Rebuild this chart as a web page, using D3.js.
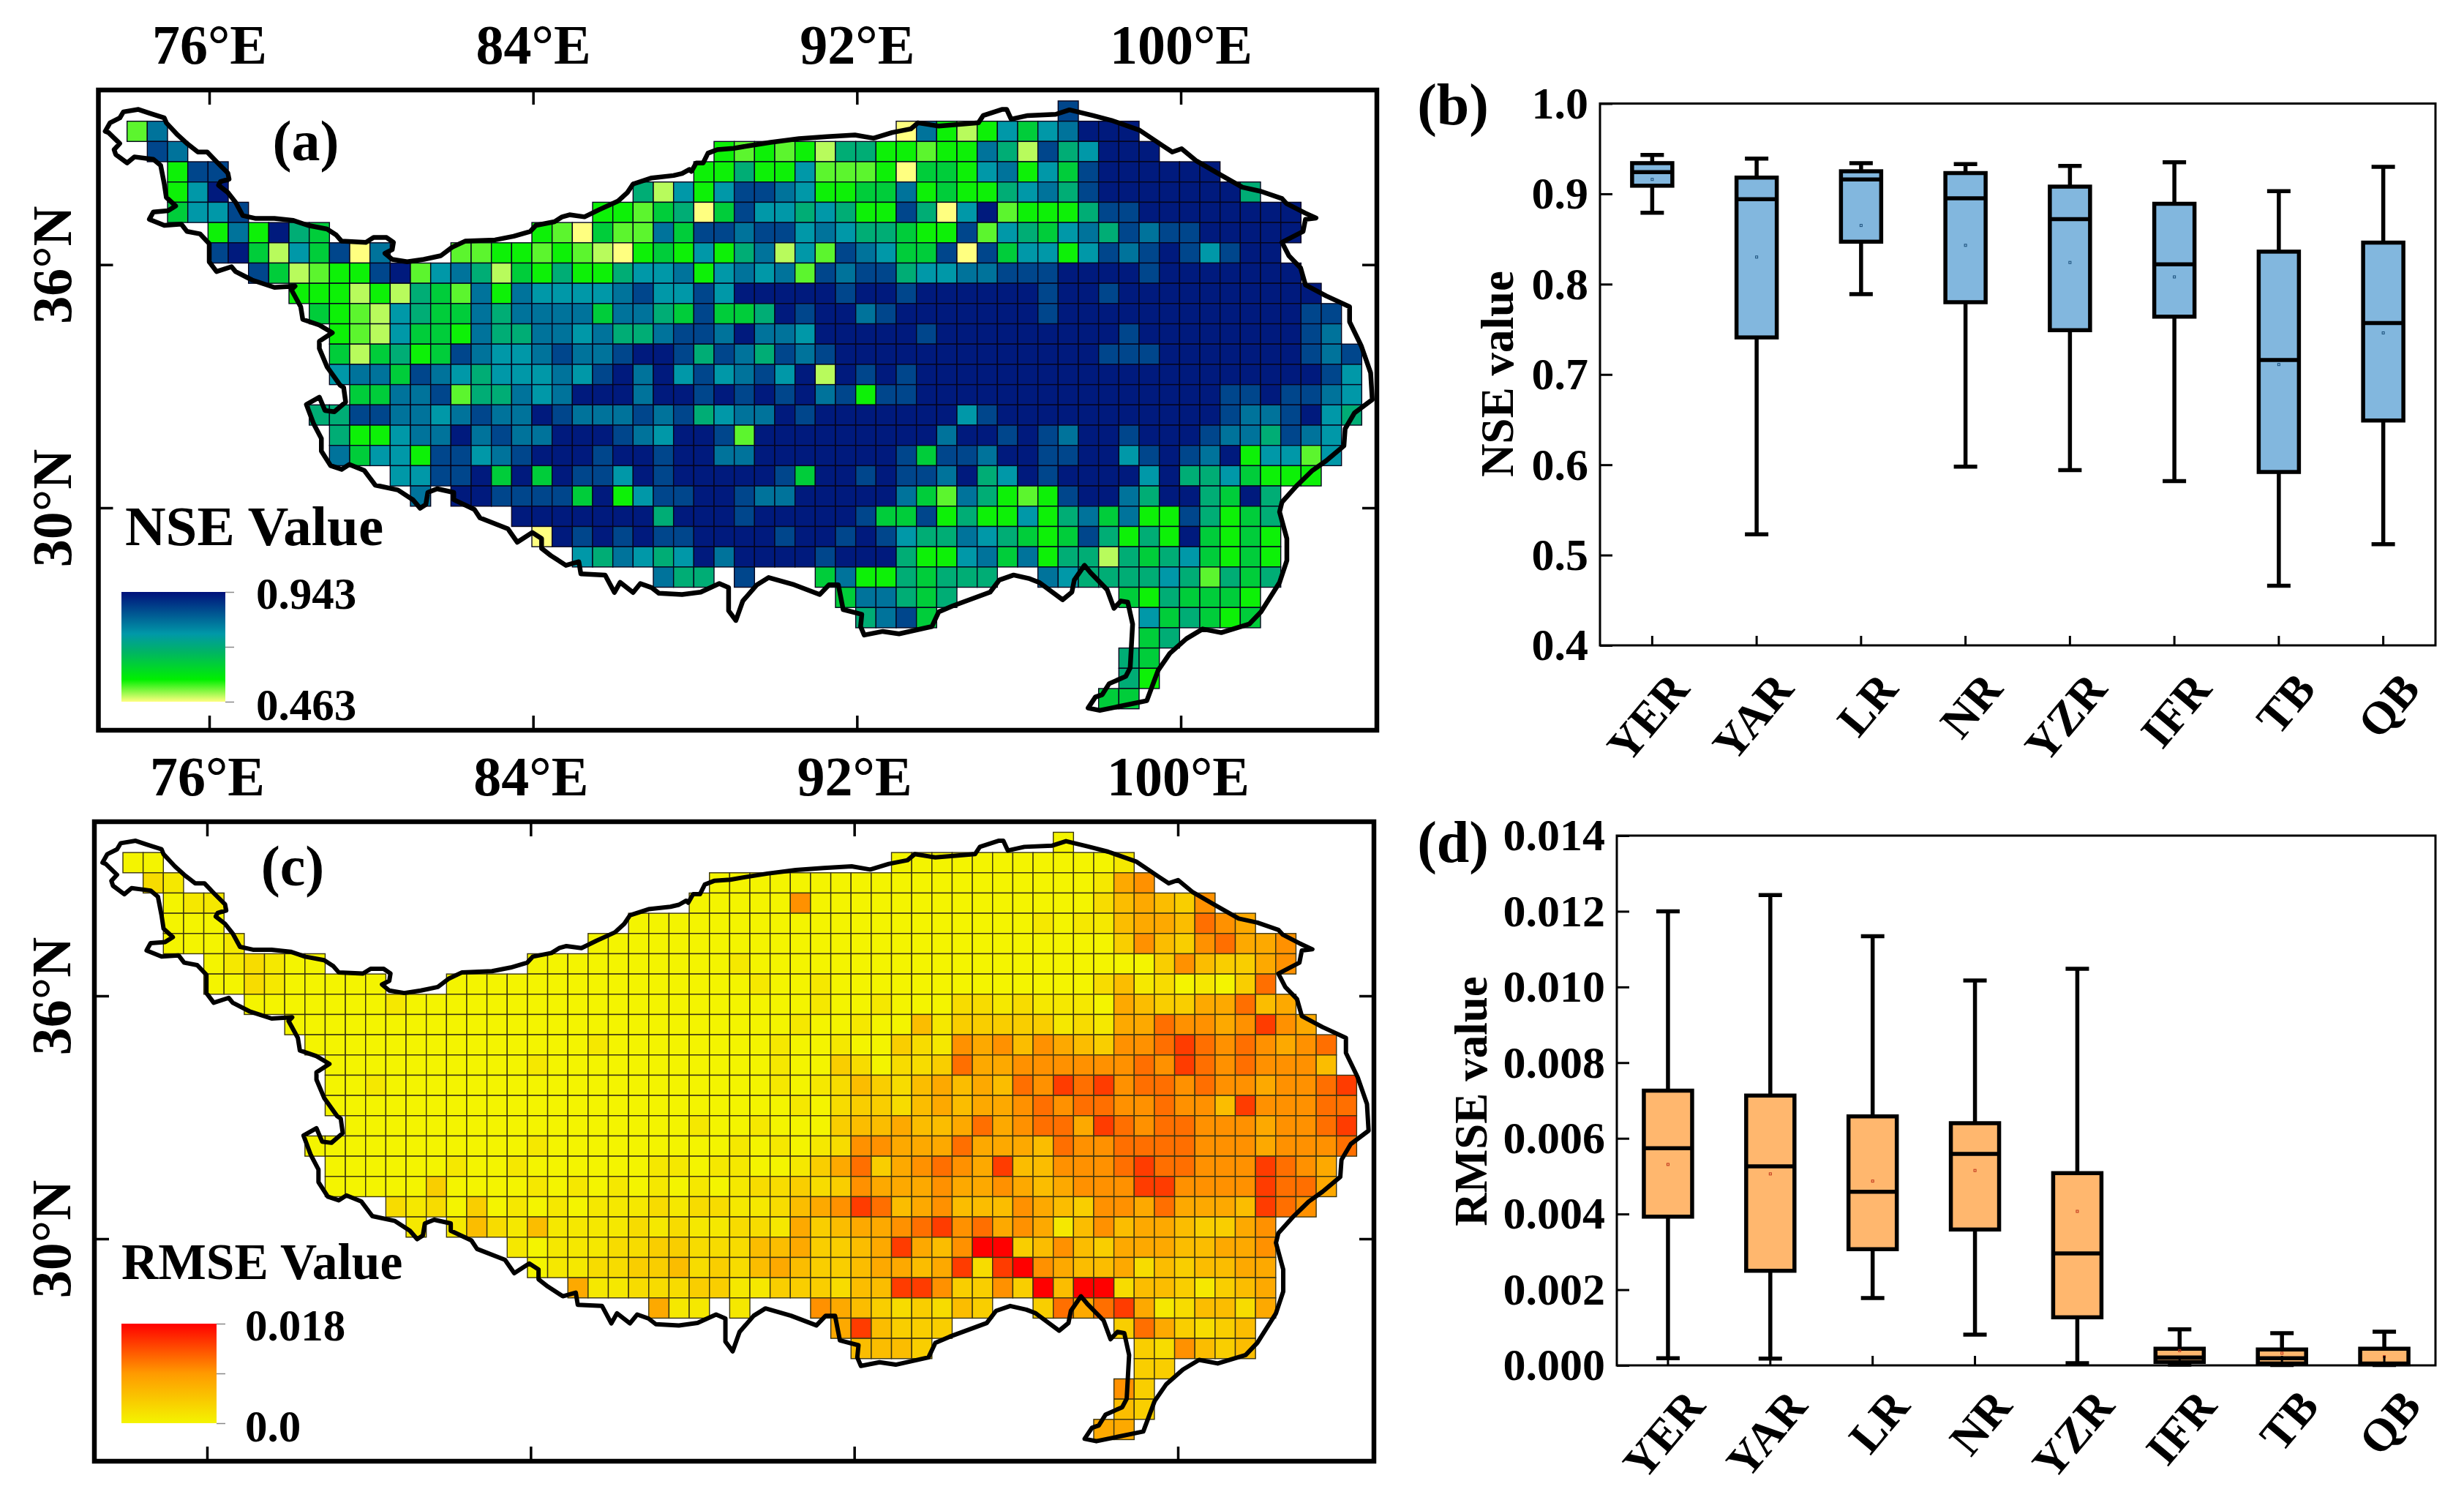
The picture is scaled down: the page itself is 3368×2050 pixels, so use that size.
<!DOCTYPE html>
<html>
<head>
<meta charset="utf-8">
<script src="https://cdn.jsdelivr.net/npm/d3@7"></script>
<style>
  html, body { margin: 0; padding: 0; background: #fff; }
  text { font-family: "Liberation Serif", serif; font-weight: bold; fill: #000; }
</style>
</head>
<body>
<svg id="chart" width="3368" height="2050"></svg>
<script>
// basin names on the box plots
const basins = ["YER", "YAR", "LR", "NR", "YZR", "IFR", "TB", "QB"];

// box plot stats, one entry per basin
const nseLow    = [0.879, 0.523, 0.789, 0.598, 0.594, 0.582, 0.466, 0.512];
const nseQ1     = [0.909, 0.741, 0.847, 0.780, 0.749, 0.764, 0.592, 0.649];
const nseMedian = [0.924, 0.894, 0.916, 0.895, 0.872, 0.822, 0.716, 0.757];
const nseQ3     = [0.934, 0.918, 0.925, 0.923, 0.908, 0.889, 0.836, 0.846];
const nseHigh   = [0.943, 0.939, 0.934, 0.933, 0.931, 0.935, 0.903, 0.930];
const nseMean   = [0.916, 0.830, 0.865, 0.843, 0.824, 0.808, 0.711, 0.746];

const rmseLow    = [0.00019, 0.00018, 0.00178, 0.00081, 0.00006, 0.00002, 0.00001, 0.00001];
const rmseQ1     = [0.00393, 0.00250, 0.00307, 0.00359, 0.00127, 0.00009, 0.00005, 0.00003];
const rmseMedian = [0.00574, 0.00526, 0.00459, 0.00559, 0.00296, 0.00021, 0.00019, 0.00005];
const rmseQ3     = [0.00726, 0.00713, 0.00658, 0.00640, 0.00508, 0.00044, 0.00042, 0.00044];
const rmseHigh   = [0.01200, 0.01243, 0.01134, 0.01017, 0.01048, 0.00095, 0.00085, 0.00089];
const rmseMean   = [0.00531, 0.00506, 0.00487, 0.00515, 0.00407, 0.00039, 0.00032, 0.00023];

const nseTicks = [0.4, 0.5, 0.6, 0.7, 0.8, 0.9, 1.0];
const rmseTicks = [0, 0.002, 0.004, 0.006, 0.008, 0.010, 0.012, 0.014];
const lonTicks = [76, 84, 92, 100];
const latTicks = [36, 30];

// grid cells: 0.5 degree, row 0 = 40N going south, col 0 = 74E going east
// each entry is [row, first col, value codes], a code is an index into the levels below
const nseLevels  = [0.463, 0.49, 0.525, 0.555, 0.63, 0.70, 0.76, 0.81, 0.87, 0.93];
const rmseLevels = [0, 0.0012, 0.0024, 0.0038, 0.0055, 0.0075, 0.0095, 0.0115, 0.0145, 0.018];

const nseCells = [
  [0, 46, "8"],
  [1, 0, "27"], [1, 38, "073136467999"],
  [2, 1, "87"], [2, 29, "3232315533 2337518569 99"],
  [3, 2, "388"], [3, 28, "3353362223 0443673648 999999"],
  [4, 2, "369"], [4, 25, "5163688763 3447343356 7589999999 5"],
  [5, 2, "4668"], [5, 23, "3324504866 5653385069 2333588999 99999"],
  [6, 4, "373954"], [6, 20, "3204227488 7886765543 3826546758 78899999"],
  [7, 4, "894164807"], [7, 16, "22332321034"], [7, 27, "3635716287 6448084663 6878986899"],
  [8, 6, "8412338926 75143533566"], [8, 27, "7367672878 8566778889 99989999999"],
  [9, 8, "3331315427 376666786"], [9, 27, "6869999989 9899999989 9899999999 99"],
  [10, 9, "4321654475 77774775"], [10, 27, "4844598997 8999999989 9999999999 988"],
  [11, 10, "3216443755 7767557"], [11, 27, "8879776999 9989999999 9989999999 987"],
  [12, 10, "4145348766 7877899"], [12, 27, "8587587899 9999999999 9888999999 9878"],
  [13, 10, "6774876566 6768979"], [13, 27, "6867869198 9899999999 9999999999 9986"],
  [14, 11, "4477825576 799979"], [14, 27, "9898989783 8899999999 9999999889 8876"],
  [15, 9, "5588776787 79877787"], [15, 27, "8567798999 9999689999 9999999877 8965"],
  [16, 10, "5336779787 7999876"], [16, 27, "9982999999 9997998987 9989998775 876"],
  [17, 10, "7466388678 9998998"], [17, 27, "9977999999 9848879988 9968987936 626"],
  [18, 13, "6688949498 8698"], [18, 27, "9999984998 9887956989 9996955643 33"],
  [19, 14, "7"], [19, 16, "99888849368"], [19, 27, "8998779999 9742753238 9975995495"],
  [20, 19, "99999995"], [20, 27, "9998999998 4483533635 7473385345"],
  [21, 20, "0989898"], [21, 27, "8999989989 8655765434 8535394343"],
  [22, 22, "65765"], [22, 27, "6979999899 9533674735 5154564343"],
  [23, 26, "755"], [23, 30, "8"], [23, 34, "473354555"], [23, 45, "765555652545"],
  [24, 35, "477545"], [24, 49, "4354443"],
  [25, 36, "5784"], [25, 50, "645434"],
  [26, 50, "45"],
  [27, 49, "54"],
  [28, 49, "53"],
  [29, 48, "44"]
];

const rmseCells = [
  [0, 46, "0"],
  [1, 0, "00"], [1, 38, "000000000001"],
  [2, 1, "21"], [2, 29, "0000000000 0000000001 56"],
  [3, 2, "011"], [3, 28, "0000060000 0000000000 245436"],
  [4, 2, "000"], [4, 25, "0000000000 0000000000 1011 4554765"],
  [5, 2, "0001"], [5, 23, "0000000000 0000000000 00000 0364367556"],
  [6, 4, "012100"], [6, 20, "0000000000 1000000000 000000000"], [6, 49, "003643356"],
  [7, 4, "002100000"], [7, 16, "0000000000 0000010010 000000000000"], [7, 48, "241201037"],
  [8, 6, "0000000100 0000000000 0000000010 01000"], [8, 41, "22121110543355745"],
  [9, 8, "0000000000 0000000000 0000010010 0"], [9, 39, "4133333121 5576656865"],
  [10, 9, "0000000000 0000100000 000100100"], [10, 38, "3216564654 3667876765 67"],
  [11, 10, "0000000000 1000000000 00100"], [11, 35, "3202237556 6666676876 76664"],
  [12, 10, "0010000000 0000000000 001012"], [12, 36, "4324545476 8786776766 56678"],
  [13, 10, "0000000000 0000000000 000102"], [13, 36, "3324545567 6776676648 66677"],
  [14, 11, "0000000000 0000000100 1000"], [14, 35, "3445445756 7758767766 656678"],
  [15, 9, "0000000000 0100000000 0101012"], [15, 36, "6655575554 7667777666 56667"],
  [16, 10, "0000001001 0000001101 1001"], [16, 34, "3573567658 4466678776 668765"],
  [17, 10, "0000030000 1010101010 122"], [17, 33, "3236555655 6545666886 6668775"],
  [18, 13, "2120301010 1112122112"], [18, 33, "4568745644 4654366575 554876"],
  [19, 14, "1"], [19, 16, "1421411112 121122"], [19, 32, "1534556786 7565146455 43356"],
  [20, 19, "1011122332 22"], [20, 31, "4453345854 6993464355 544556"],
  [21, 20, "0112233423 2"], [21, 31, "4543345545 8289654452 434455"],
  [22, 22, "51122233"], [22, 30, "1133324488 6336394992 4431345"],
  [23, 26, "511"], [23, 30, "1"], [23, 34, "654323243"], [23, 45, "375785124425"],
  [24, 35, "584333"], [24, 49, "3753234"],
  [25, 36, "4443"], [25, 50, "326434"],
  [26, 50, "33"],
  [27, 49, "63"],
  [28, 49, "43"],
  [29, 48, "55"]
];

// basin outline as [lon, lat]
const outline = [
  [73.46,39.25],[73.58,39.46],[73.82,39.58],[73.91,39.73],[74.28,39.79],[74.55,39.70],[74.92,39.58],[74.97,39.46],
  [75.25,39.16],[75.48,38.95],[75.75,38.74],[75.98,38.74],[76.21,38.50],[76.49,38.22],[76.52,38.07],[76.31,38.01],
  [76.26,37.92],[76.49,37.74],[76.68,37.50],[76.86,37.17],[77.18,37.10],[77.64,37.10],[78.11,37.05],[78.47,36.93],
  [78.94,36.84],[79.17,36.69],[79.30,36.54],[79.90,36.51],[80.09,36.63],[80.41,36.63],[80.58,36.51],[80.55,36.33],
  [80.37,36.24],[80.55,36.09],[80.92,36.03],[81.33,36.09],[81.75,36.18],[82.03,36.39],[82.35,36.54],[83.09,36.57],
  [83.55,36.66],[83.96,36.78],[84.10,36.93],[84.56,37.02],[84.75,37.14],[84.93,37.19],[85.30,37.14],[85.67,37.32],
  [86.13,37.53],[86.36,37.74],[86.50,37.95],[86.96,38.10],[87.50,38.16],[87.71,38.21],[87.89,38.31],[87.94,38.26],
  [88.06,38.47],[88.23,38.47],[88.35,38.71],[88.58,38.80],[88.98,38.83],[89.33,38.89],[89.90,38.98],[90.60,39.07],
  [91.29,39.12],[91.98,39.16],[92.44,39.08],[92.90,39.22],[93.36,39.31],[93.54,39.46],[94.05,39.38],[95.03,39.46],
  [95.15,39.64],[95.61,39.79],[95.73,39.79],[95.84,39.55],[96.25,39.64],[96.94,39.67],[97.28,39.78],[97.86,39.64],
  [98.32,39.52],[99.01,39.28],[99.59,38.89],[99.82,38.74],[100.05,38.82],[100.40,38.53],[100.97,38.20],[101.55,37.87],
  [102.01,37.77],[102.53,37.59],[102.64,37.47],[103.11,37.23],[103.37,37.11],[103.11,37.08],[103.05,36.78],[102.53,36.51],
  [102.70,36.18],[102.99,35.88],[103.11,35.46],[103.62,35.19],[104.20,34.92],[104.20,34.55],[104.49,33.95],[104.72,33.29],
  [104.76,32.63],[104.32,32.30],[104.09,31.91],[104.06,31.49],[103.62,31.12],[103.28,30.88],[102.88,30.49],[102.53,30.10],
  [102.47,29.86],[102.65,29.20],[102.65,28.66],[102.47,28.12],[102.01,27.39],[101.72,27.09],[101.03,26.88],[100.57,26.97],
  [100.17,26.73],[99.76,26.37],[99.47,25.95],[99.19,25.20],[98.03,24.96],[97.74,25.02],[97.92,25.29],[98.09,25.35],
  [98.26,25.62],[98.67,25.80],[98.78,26.01],[98.84,27.09],[98.72,27.63],[98.55,27.66],[98.38,27.48],[98.21,27.94],
  [97.80,28.36],[97.65,28.54],[97.40,28.18],[97.34,27.88],[97.11,27.69],[96.53,28.12],[96.30,28.21],[95.90,28.30],
  [95.55,28.18],[95.32,27.88],[94.40,27.54],[94.05,27.39],[93.88,27.03],[93.07,26.85],[92.67,26.91],[92.21,26.82],
  [92.12,27.03],[92.15,27.33],[91.69,27.45],[91.57,28.06],[91.34,28.06],[91.11,27.82],[90.48,28.06],[89.85,28.24],
  [89.56,28.06],[89.21,27.66],[89.04,27.18],[88.86,27.42],[88.86,27.99],[88.63,28.09],[88.17,27.88],[87.71,27.82],
  [87.14,27.85],[86.96,27.99],[86.68,28.09],[86.50,27.87],[86.18,28.12],[86.04,27.87],[85.81,28.30],[85.21,28.33],
  [85.16,28.63],[84.84,28.54],[84.47,28.78],[84.24,28.96],[84.24,29.20],[84.01,29.35],[83.64,29.11],[83.41,29.44],
  [82.72,29.71],[82.58,29.92],[82.07,30.16],[82.07,30.34],[81.66,30.43],[81.43,30.34],[81.38,30.04],[81.24,29.95],
  [81.06,30.16],[80.69,30.40],[80.13,30.52],[79.86,30.88],[79.49,31.03],[79.30,30.91],[79.03,31.00],[78.80,31.36],
  [78.80,31.67],[78.61,32.03],[78.43,32.51],[78.75,32.69],[78.89,32.36],[79.12,32.33],[79.40,32.57],[79.35,32.93],
  [79.26,32.99],[78.94,33.44],[78.75,33.89],[78.75,34.07],[79.07,34.28],[78.75,34.47],[78.34,34.61],[78.29,34.92],
  [78.06,35.34],[78.15,35.43],[77.64,35.40],[77.09,35.58],[76.68,35.79],[76.58,35.91],[76.21,35.79],[76.03,36.03],
  [76.03,36.48],[75.80,36.72],[75.48,36.78],[75.34,36.96],[74.92,36.93],[74.55,37.08],[74.65,37.26],[75.01,37.29],
  [75.20,37.41],[74.97,37.62],[74.92,37.95],[74.83,38.41],[74.65,38.56],[74.18,38.62],[74.00,38.47],[73.72,38.68],
  [73.68,38.80],[73.82,38.95],[73.54,39.22]
];

const nseColor = d3.scaleLinear()
    .domain([0.463, 0.56, 0.68, 0.76, 0.943])
    .range(["#ffff80", "#00f000", "#00b464", "#0098a8", "#00107a"]);
const rmseColor = d3.scaleLinear()
    .domain([0, 0.009, 0.018])
    .range(["#f4f400", "#ff9a00", "#ff0000"]);

const svg = d3.select("#chart");
const defs = svg.append("defs");
const deg = "\u00b0";

function drawMap(o) {
  const g = svg.append("g");
  const x = d3.scaleLinear().domain([76, 100]).range(o.xTicks);
  const y = d3.scaleLinear().domain([36, 30]).range(o.yTicks);

  const cells = o.cells.flatMap(([row, col, codes]) =>
    Array.from(codes.replace(/ /g, ""), (c, i) => ({
      lon: 74 + (col + i) * 0.5 + o.gridLon,
      lat: 40 - row * 0.5 + o.gridLat,
      v: o.levels[+c]
    })));

  g.selectAll("rect.cell").data(cells).join("rect")
      .attr("class", "cell")
      .attr("x", d => x(d.lon))
      .attr("y", d => y(d.lat))
      .attr("width", d => x(d.lon + 0.5) - x(d.lon))
      .attr("height", d => y(d.lat - 0.5) - y(d.lat))
      .attr("fill", d => o.color(d.v))
      .attr("stroke", o.cellStroke)
      .attr("stroke-width", 1.4);

  const line = d3.line()
      .x(d => x(d[0] + o.lineLon))
      .y(d => y(d[1] + o.gridLat))
      .curve(d3.curveLinearClosed);
  g.append("path")
      .attr("d", line(outline))
      .attr("fill", "none")
      .attr("stroke", "#000")
      .attr("stroke-width", o.lineWidth)
      .attr("stroke-linejoin", "round");

  g.append("rect")
      .attr("x", o.frame[0]).attr("y", o.frame[1])
      .attr("width", o.frame[2] - o.frame[0]).attr("height", o.frame[3] - o.frame[1])
      .attr("fill", "none").attr("stroke", "#000").attr("stroke-width", 6.5);

  // ticks point inward on all four sides, labels only on top and left
  const axes = [
    [d3.axisTop(x).tickValues(lonTicks).tickFormat(d => d + deg + "E").tickPadding(36), 0, o.frame[1]],
    [d3.axisBottom(x).tickValues(lonTicks).tickFormat(""), 0, o.frame[3]],
    [d3.axisLeft(y).tickValues(latTicks).tickFormat(d => d + deg + "N").tickPadding(o.latPad), o.frame[0], 0],
    [d3.axisRight(y).tickValues(latTicks).tickFormat(""), o.frame[2], 0]
  ];
  axes.forEach(([ax, tx, ty]) => {
    const a = g.append("g")
        .attr("transform", `translate(${tx},${ty})`)
        .call(ax.tickSize(-20).tickSizeOuter(0));
    a.select(".domain").remove();
    a.selectAll(".tick line").attr("stroke", "#000").attr("stroke-width", 3.5);
    a.selectAll("text").attr("font-size", 76).attr("font-family", null);
  });

  // left labels run up the side
  g.selectAll("g.tick text").each(function() {
    const t = d3.select(this);
    if (!/N$/.test(t.text())) return;
    const lx = +t.attr("x");
    t.attr("x", null).attr("dy", null)
     .attr("text-anchor", "middle")
     .attr("transform", `translate(${lx},0) rotate(-90)`);
  });

  // panel letter
  g.append("text").text(o.letter)
      .attr("x", o.letterPos[0]).attr("y", o.letterPos[1])
      .attr("text-anchor", "middle").attr("font-size", 78);

  // colour bar
  const grad = defs.append("linearGradient").attr("id", o.id)
      .attr("x1", 0).attr("x2", 0).attr("y1", 1).attr("y2", 0);
  o.color.domain().forEach(v => {
    grad.append("stop")
        .attr("offset", (v - o.range[0]) / (o.range[1] - o.range[0]))
        .attr("stop-color", o.color(v));
  });
  const bar = d3.scaleLinear().domain(o.range).range([o.barBox[3], o.barBox[1]]);
  g.append("rect")
      .attr("x", o.barBox[0]).attr("y", o.barBox[1])
      .attr("width", o.barBox[2] - o.barBox[0]).attr("height", o.barBox[3] - o.barBox[1])
      .attr("fill", `url(#${o.id})`);
  const barAxis = g.append("g")
      .attr("transform", `translate(${o.barBox[2]},0)`)
      .call(d3.axisRight(bar)
        .tickValues([o.range[0], (o.range[0] + o.range[1]) / 2, o.range[1]])
        .tickFormat("").tickSize(12).tickSizeOuter(0));
  barAxis.select(".domain").remove();
  barAxis.selectAll(".tick line").attr("stroke", "#888").attr("stroke-width", 1.5);

  g.append("text").text(o.title)
      .attr("x", o.titlePos[0]).attr("y", o.titlePos[1])
      .attr("font-size", o.titleSize);
  o.barLabels.forEach(([t, lx, ly]) => {
    g.append("text").text(t).attr("x", lx).attr("y", ly).attr("font-size", 61);
  });
}

drawMap({
  id: "nseGrad", letter: "(a)", letterPos: [418, 219],
  cells: nseCells, levels: nseLevels, color: nseColor, cellStroke: "#05051e",
  xTicks: [286, 1614], yTicks: [361.7, 694], gridLon: -0.03, lineLon: -0.03, gridLat: 0.04,
  lineWidth: 6.5, frame: [134.5, 123, 1882, 998], latPad: 38,
  range: [0.463, 0.943], barBox: [166, 809, 308, 959],
  title: "NSE Value", titlePos: [171, 745], titleSize: 77,
  barLabels: [["0.943", 350, 832], ["0.463", 350, 984]]
});

drawMap({
  id: "rmseGrad", letter: "(c)", letterPos: [400, 1210],
  cells: rmseCells, levels: rmseLevels, color: rmseColor, cellStroke: "#3a3410",
  xTicks: [283, 1610], yTicks: [1361, 1693], gridLon: -0.08, lineLon: -0.045, gridLat: 0.04,
  lineWidth: 6, frame: [129, 1123, 1878, 1997], latPad: 33,
  range: [0, 0.018], barBox: [166, 1809, 296, 1945],
  title: "RMSE Value", titlePos: [166, 1748], titleSize: 69.5,
  barLabels: [["0.018", 335, 1832], ["0.0", 335, 1970]]
});

function drawBoxes(o) {
  const g = svg.append("g");
  const x = d3.scaleBand().domain(basins).range([o.left, o.right]);
  const y = d3.scaleLinear().domain(o.domain).range([o.bottom, o.top]);
  const cx = d => x(d) + x.bandwidth() / 2;
  const stats = basins.map((b, i) => ({
    b, low: o.low[i], q1: o.q1[i], med: o.med[i], q3: o.q3[i], high: o.high[i], mean: o.mean[i]
  }));

  const box = g.selectAll("g.box").data(stats).join("g").attr("class", "box");
  box.append("line").attr("class", "whisker")
      .attr("x1", d => cx(d.b)).attr("x2", d => cx(d.b))
      .attr("y1", d => y(d.low)).attr("y2", d => y(d.high));
  ["low", "high"].forEach(k => {
    box.append("line").attr("class", "whisker")
        .attr("x1", d => cx(d.b) - 16).attr("x2", d => cx(d.b) + 16)
        .attr("y1", d => y(d[k])).attr("y2", d => y(d[k]));
  });
  box.selectAll("line.whisker").attr("stroke", "#000").attr("stroke-width", 5.5);
  box.append("rect")
      .attr("x", d => cx(d.b) - o.boxW / 2).attr("width", o.boxW)
      .attr("y", d => y(d.q3)).attr("height", d => y(d.q1) - y(d.q3))
      .attr("fill", o.fill).attr("stroke", "#000").attr("stroke-width", 5.5);
  box.append("line")
      .attr("x1", d => cx(d.b) - o.boxW / 2).attr("x2", d => cx(d.b) + o.boxW / 2)
      .attr("y1", d => y(d.med)).attr("y2", d => y(d.med))
      .attr("stroke", "#000").attr("stroke-width", 5.5);
  box.append("rect")
      .attr("x", d => cx(d.b) - 1.5).attr("width", 3)
      .attr("y", d => y(d.mean) - 1.5).attr("height", 3)
      .attr("fill", "none").attr("stroke", o.meanColor).attr("stroke-width", 1);

  g.append("rect")
      .attr("x", o.left).attr("y", o.top)
      .attr("width", o.right - o.left).attr("height", o.bottom - o.top)
      .attr("fill", "none").attr("stroke", "#000").attr("stroke-width", 3);

  const yAxis = g.append("g").attr("transform", `translate(${o.left},0)`)
      .call(d3.axisLeft(y).tickValues(o.ticks).tickFormat(o.fmt).tickSize(-17).tickSizeOuter(0).tickPadding(16));
  yAxis.select(".domain").remove();
  yAxis.selectAll(".tick line").attr("stroke", "#000").attr("stroke-width", 3);
  yAxis.selectAll("text").attr("font-size", 62).attr("font-family", null);

  const xAxis = g.append("g").attr("transform", `translate(0,${o.bottom})`)
      .call(d3.axisBottom(x).tickSize(-13).tickSizeOuter(0));
  xAxis.select(".domain").remove();
  xAxis.selectAll(".tick line").attr("stroke", "#000").attr("stroke-width", 3);
  xAxis.selectAll("text")
      .attr("font-size", 63).attr("font-family", null)
      .attr("text-anchor", "end").attr("y", null).attr("dy", null)
      .attr("transform", `translate(53,${o.labelDrop}) rotate(-50)`);

  g.append("text").text(o.yTitle)
      .attr("transform", `translate(${o.yTitleX},${o.yTitleY}) rotate(-90)`)
      .attr("text-anchor", "middle").attr("font-size", 63);
  g.append("text").text(o.letter)
      .attr("x", 2035).attr("y", o.letterY)
      .attr("text-anchor", "end").attr("font-size", 80);
}

drawBoxes({
  left: 2187, right: 3329, top: 141.5, bottom: 882, domain: [0.4, 1.0],
  low: nseLow, q1: nseQ1, med: nseMedian, q3: nseQ3, high: nseHigh, mean: nseMean,
  ticks: nseTicks, fmt: d3.format(".1f"), boxW: 55, fill: "#82b7de", meanColor: "#1b4f7a",
  yTitle: "NSE value", yTitleX: 2068, yTitleY: 511, letter: "(b)", letterY: 170, labelDrop: 61
});

drawBoxes({
  left: 2210, right: 3329, top: 1142, bottom: 1866, domain: [0, 0.014],
  low: rmseLow, q1: rmseQ1, med: rmseMedian, q3: rmseQ3, high: rmseHigh, mean: rmseMean,
  ticks: rmseTicks, fmt: d3.format(".3f"), boxW: 66, fill: "#ffb76e", meanColor: "#c0341c",
  yTitle: "RMSE value", yTitleX: 2032, yTitleY: 1505, letter: "(d)", letterY: 1178, labelDrop: 57
});
</script>
</body>
</html>
